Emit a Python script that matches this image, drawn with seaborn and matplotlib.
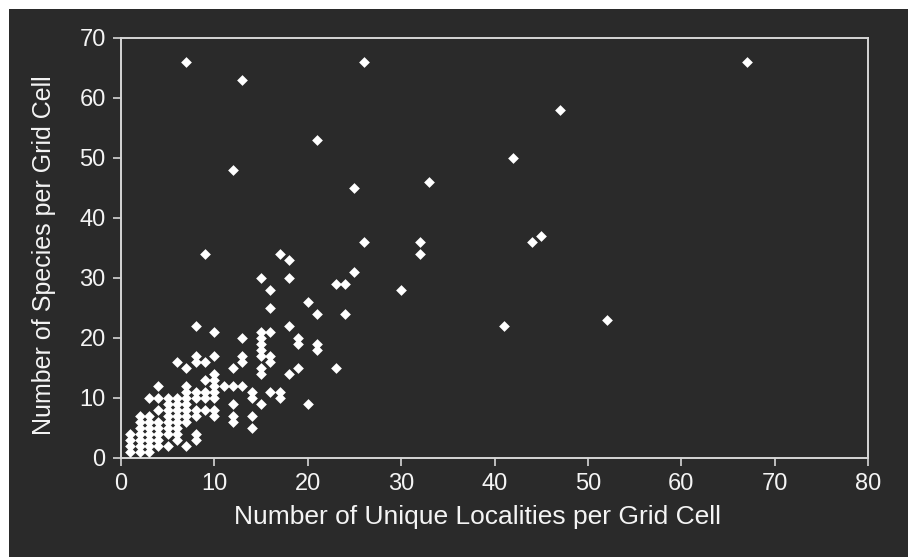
import matplotlib
matplotlib.use("Agg")
import matplotlib.pyplot as plt
from matplotlib.patches import Rectangle
import seaborn as sns
import pandas as pd

# Number of unique localities per grid cell (x) and species counts (y), grouped by x
loc_values = [1, 2, 3, 4, 5, 6, 7, 8, 9, 10, 11, 12, 13, 14, 15, 16, 17, 18, 19,
              20, 21, 23, 24, 25, 26, 30, 32, 33, 41, 42, 44, 45, 47, 52, 67]
species_by_loc = [
    [1, 2, 3, 4],
    [1, 2, 3, 4, 5, 6, 7],
    [1, 2, 3, 4, 5, 6, 7, 10],
    [2, 3, 4, 5, 6, 8, 10, 12],
    [2, 4, 5, 6, 7, 8, 9, 10],
    [3, 4, 5, 6, 7, 8, 9, 10, 16],
    [2, 6, 7, 8, 9, 10, 11, 12, 15, 66],
    [3, 4, 7, 8, 10, 11, 16, 17, 22],
    [8, 10, 11, 13, 16, 34],
    [7, 8, 10, 11, 12, 13, 14, 17, 21],
    [12],
    [6, 7, 9, 12, 15, 48],
    [12, 16, 17, 20, 63],
    [5, 7, 10, 11],
    [9, 14, 15, 17, 18, 19, 20, 21, 30],
    [11, 16, 17, 21, 25, 28],
    [10, 11, 34],
    [14, 22, 30, 33],
    [15, 19, 20],
    [9, 26],
    [18, 19, 24, 53],
    [15, 29],
    [24, 29],
    [31, 45],
    [36, 66],
    [28],
    [34, 36],
    [46],
    [22],
    [50],
    [36],
    [37],
    [58],
    [23],
    [66],
]

x_ticks = [0, 10, 20, 30, 40, 50, 60, 70, 80]
y_ticks = [0, 10, 20, 30, 40, 50, 60, 70]
x_label = "Number of Unique Localities per Grid Cell"
y_label = "Number of Species per Grid Cell"

rows = [(xv, yv) for xv, ys in zip(loc_values, species_by_loc) for yv in ys]
df = pd.DataFrame(rows, columns=["localities", "species"])

BG = "#2a2a2a"
FG = "#f4f4f4"
SPINE = "#d6d6d6"

sns.set_theme(style="dark")
plt.rcParams["font.family"] = ["Liberation Sans", "DejaVu Sans"]

W, H = 911, 557
fig = plt.figure(figsize=(W / 100, H / 100), dpi=100)
fig.patch.set_facecolor("white")
fig.patches.append(Rectangle((9 / W, 0), (908 - 9) / W, (H - 9) / H,
                             transform=fig.transFigure, facecolor=BG,
                             edgecolor="none", zorder=-10))

ax = fig.add_axes([121 / W, 1 - 458 / H, (868 - 121) / W, (458 - 38) / H])
ax.set_facecolor(BG)

sns.scatterplot(data=df, x="localities", y="species", marker="D", color="white",
                s=30, linewidth=0, ax=ax, clip_on=False, zorder=3)

ax.set_xlim(0, 80)
ax.set_ylim(0, 70)
ax.set_xticks(x_ticks)
ax.set_yticks(y_ticks)
ax.set_xticklabels([str(t) for t in x_ticks])
ax.set_yticklabels([str(t) for t in y_ticks])
ax.grid(False)

for side in ["left", "right", "top", "bottom"]:
    ax.spines[side].set_visible(True)
    ax.spines[side].set_color(SPINE)
    ax.spines[side].set_linewidth(1.4)

ax.tick_params(axis="both", which="major", direction="out", length=6, width=1.2,
               color=SPINE, labelcolor=FG, labelsize=17, pad=5)
ax.tick_params(axis="x", bottom=True, top=False)
ax.tick_params(axis="y", left=True, right=False)

ax.set_xlabel(x_label, color=FG, fontsize=19)
ax.set_ylabel(y_label, color=FG, fontsize=18)
ax.xaxis.set_label_coords((477 - 121) / 747, (458 - 505) / 420)
ax.yaxis.set_label_coords((56 - 121) / 747, (458 - 255) / 420)

fig.savefig("out.png", dpi=100, facecolor=fig.get_facecolor())
